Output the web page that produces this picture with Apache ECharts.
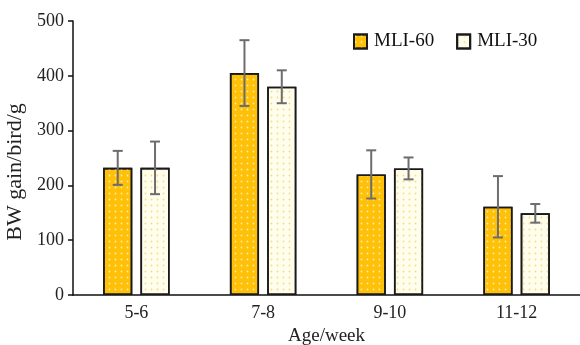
<!DOCTYPE html>
<html><head><meta charset="utf-8">
<script src="https://cdn.jsdelivr.net/npm/echarts@6/dist/echarts.min.js"></script>
<style>html,body{margin:0;padding:0;background:#fff}#c{width:580px;height:345px}</style>
</head><body><div id="c"></div>
<script>
const categories = ['5-6', '7-8', '9-10', '11-12'];
const seriesNames = ['MLI-60', 'MLI-30'];
const mli60 = [232, 405, 220, 161];
const mli30 = [232, 380, 231, 149];
const mli60Err = [31, 60, 44, 56];
const mli30Err = [48, 30, 20, 17];
const yTicks = [0, 100, 200, 300, 400, 500];

const FONT = 'Liberation Serif';
const BAR_W = 0.23, GAP = 0.28;
const offFrac = BAR_W * (1 + GAP) / 2;

function errSeries(vals, errs, sign) {
  return {
    type: 'custom',
    silent: true,
    z: 5,
    data: vals.map((v, i) => [i, v, errs[i]]),
    renderItem: function (params, api) {
      const i = api.value(0), v = api.value(1), e = api.value(2);
      const band = api.size([1, 0])[0];
      const c = api.coord([i, v]);
      const x = c[0] + sign * band * offFrac;
      const yt = api.coord([i, v + e])[1];
      const yb = api.coord([i, v - e])[1];
      const cap = 5;
      const st = { stroke: '#6d6d6d', lineWidth: 2 };
      return { type: 'group', children: [
        { type: 'line', shape: { x1: x, y1: yt, x2: x, y2: yb }, style: st },
        { type: 'line', shape: { x1: x - cap, y1: yt, x2: x + cap, y2: yt }, style: st },
        { type: 'line', shape: { x1: x - cap, y1: yb, x2: x + cap, y2: yb }, style: st }
      ]};
    }
  };
}

const chart = echarts.init(document.getElementById('c'), null, { renderer: 'canvas' });
chart.setOption({
  animation: false,
  backgroundColor: '#fff',
  textStyle: { fontFamily: FONT },
  grid: { left: 73, right: 0, top: 21, bottom: 50, containLabel: false, outerBoundsMode: 'none' },
  legend: {
    data: seriesNames,
    left: 353, top: 32, padding: 0,
    icon: 'rect',
    itemWidth: 13, itemHeight: 14, itemGap: 22,
    textStyle: { fontFamily: FONT, fontSize: 19, color: '#111', padding: [0, 0, 0, 2] }
  },
  xAxis: {
    type: 'category', data: categories,
    axisLine: { lineStyle: { color: '#111', width: 1.5 } },
    axisTick: { show: false },
    axisLabel: { fontFamily: FONT, fontSize: 18, color: '#222', margin: 9 },
    name: 'Age/week', nameLocation: 'middle', nameGap: 32,
    nameTextStyle: { fontFamily: FONT, fontSize: 19, color: '#222' }
  },
  yAxis: {
    type: 'value', min: yTicks[0], max: yTicks[yTicks.length - 1], interval: 100,
    axisLine: { show: true, lineStyle: { color: '#111', width: 1.5 } },
    axisTick: { show: true, length: 5, lineStyle: { color: '#111', width: 1.5 } },
    splitLine: { show: false },
    axisLabel: { fontFamily: FONT, fontSize: 18, color: '#222', margin: 9 },
    name: 'BW gain/bird/g', nameLocation: 'middle', nameGap: 45,
    nameTextStyle: { fontFamily: FONT, fontSize: 22, color: '#222', padding: [0, 28, 0, 0] }
  },
  series: [
    {
      name: seriesNames[0], type: 'bar', data: mli60,
      barWidth: (BAR_W * 100) + '%', barGap: (GAP * 100) + '%',
      itemStyle: {
        color: '#FFC107', borderColor: '#1a1a1a', borderWidth: 1.6,
        decal: { symbol: 'circle', symbolSize: 0.6, color: 'rgba(255,240,195,0.9)', dashArrayX: [[3, 3]], dashArrayY: [3, 3], rotation: 0 }
      }
    },
    {
      name: seriesNames[1], type: 'bar', data: mli30,
      barWidth: (BAR_W * 100) + '%', barGap: (GAP * 100) + '%',
      itemStyle: {
        color: '#FFFDEB', borderColor: '#1a1a1a', borderWidth: 1.6,
        decal: { symbol: 'circle', symbolSize: 0.6, color: 'rgba(240,205,100,0.7)', dashArrayX: [[3, 3]], dashArrayY: [3, 3], rotation: 0 }
      }
    },
    errSeries(mli60, mli60Err, -1),
    errSeries(mli30, mli30Err, 1)
  ]
});
</script></body></html>
